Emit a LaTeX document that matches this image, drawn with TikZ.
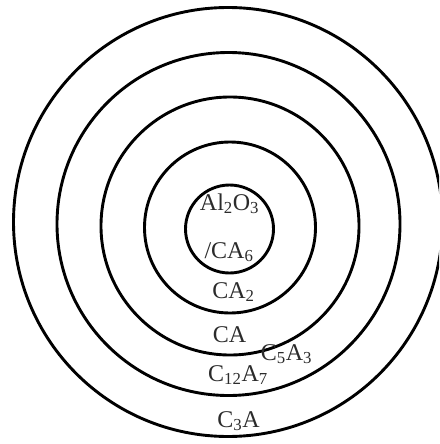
\documentclass[tikz,border=0pt]{standalone}
\usepackage{fontspec}
\setmainfont{Liberation Serif}
\usepackage{xcolor}
\definecolor{phasetext}{HTML}{2B2B2B}
\usetikzlibrary{positioning}
\tikzset{
  phasering/.style={draw,circle,line width=2.9pt,inner sep=0pt},
  phaselabel/.style={font=\fontsize{24}{28}\selectfont,text=phasetext,inner sep=0pt,anchor=base},
}

\begin{document}
\begin{tikzpicture}[x=1pt,y=-1pt]
\useasboundingbox (0,0) rectangle (439,444);
\clip (0,0) rectangle (439,444);
 % reaction layers, core first
\node[phasering,minimum size=88pt] (core) at (229.5,229) {};
\node[phasering,minimum size=171pt] (ringa) at (230,227.5) {};
\node[phasering,minimum size=258pt] (ringb) at (230,226) {};
\node[phasering,minimum size=343pt] (ringc) at (228.5,224) {};
\node[phasering,minimum size=429pt] (ringd) at (228,222) {};
 % phase names
\node[phaselabel] (alo) at (229.5,210) {Al\textsubscript{2}O\textsubscript{3}};
\node[phaselabel] (ca6) at (229,258) {/CA\textsubscript{6}};
\node[phaselabel] (ca2) at (233.5,298) {CA\textsubscript{2}};
\node[phaselabel] (ca) at (229.5,342) {CA};
\node[phaselabel] (c5a3) at (286.5,360) {C\textsubscript{5}A\textsubscript{3}};
\node[phaselabel] (c12a7) at (238,381) {C\textsubscript{12}A\textsubscript{7}};
\node[phaselabel] (c3a) at (238.5,427) {C\textsubscript{3}A};
\end{tikzpicture}
\end{document}
